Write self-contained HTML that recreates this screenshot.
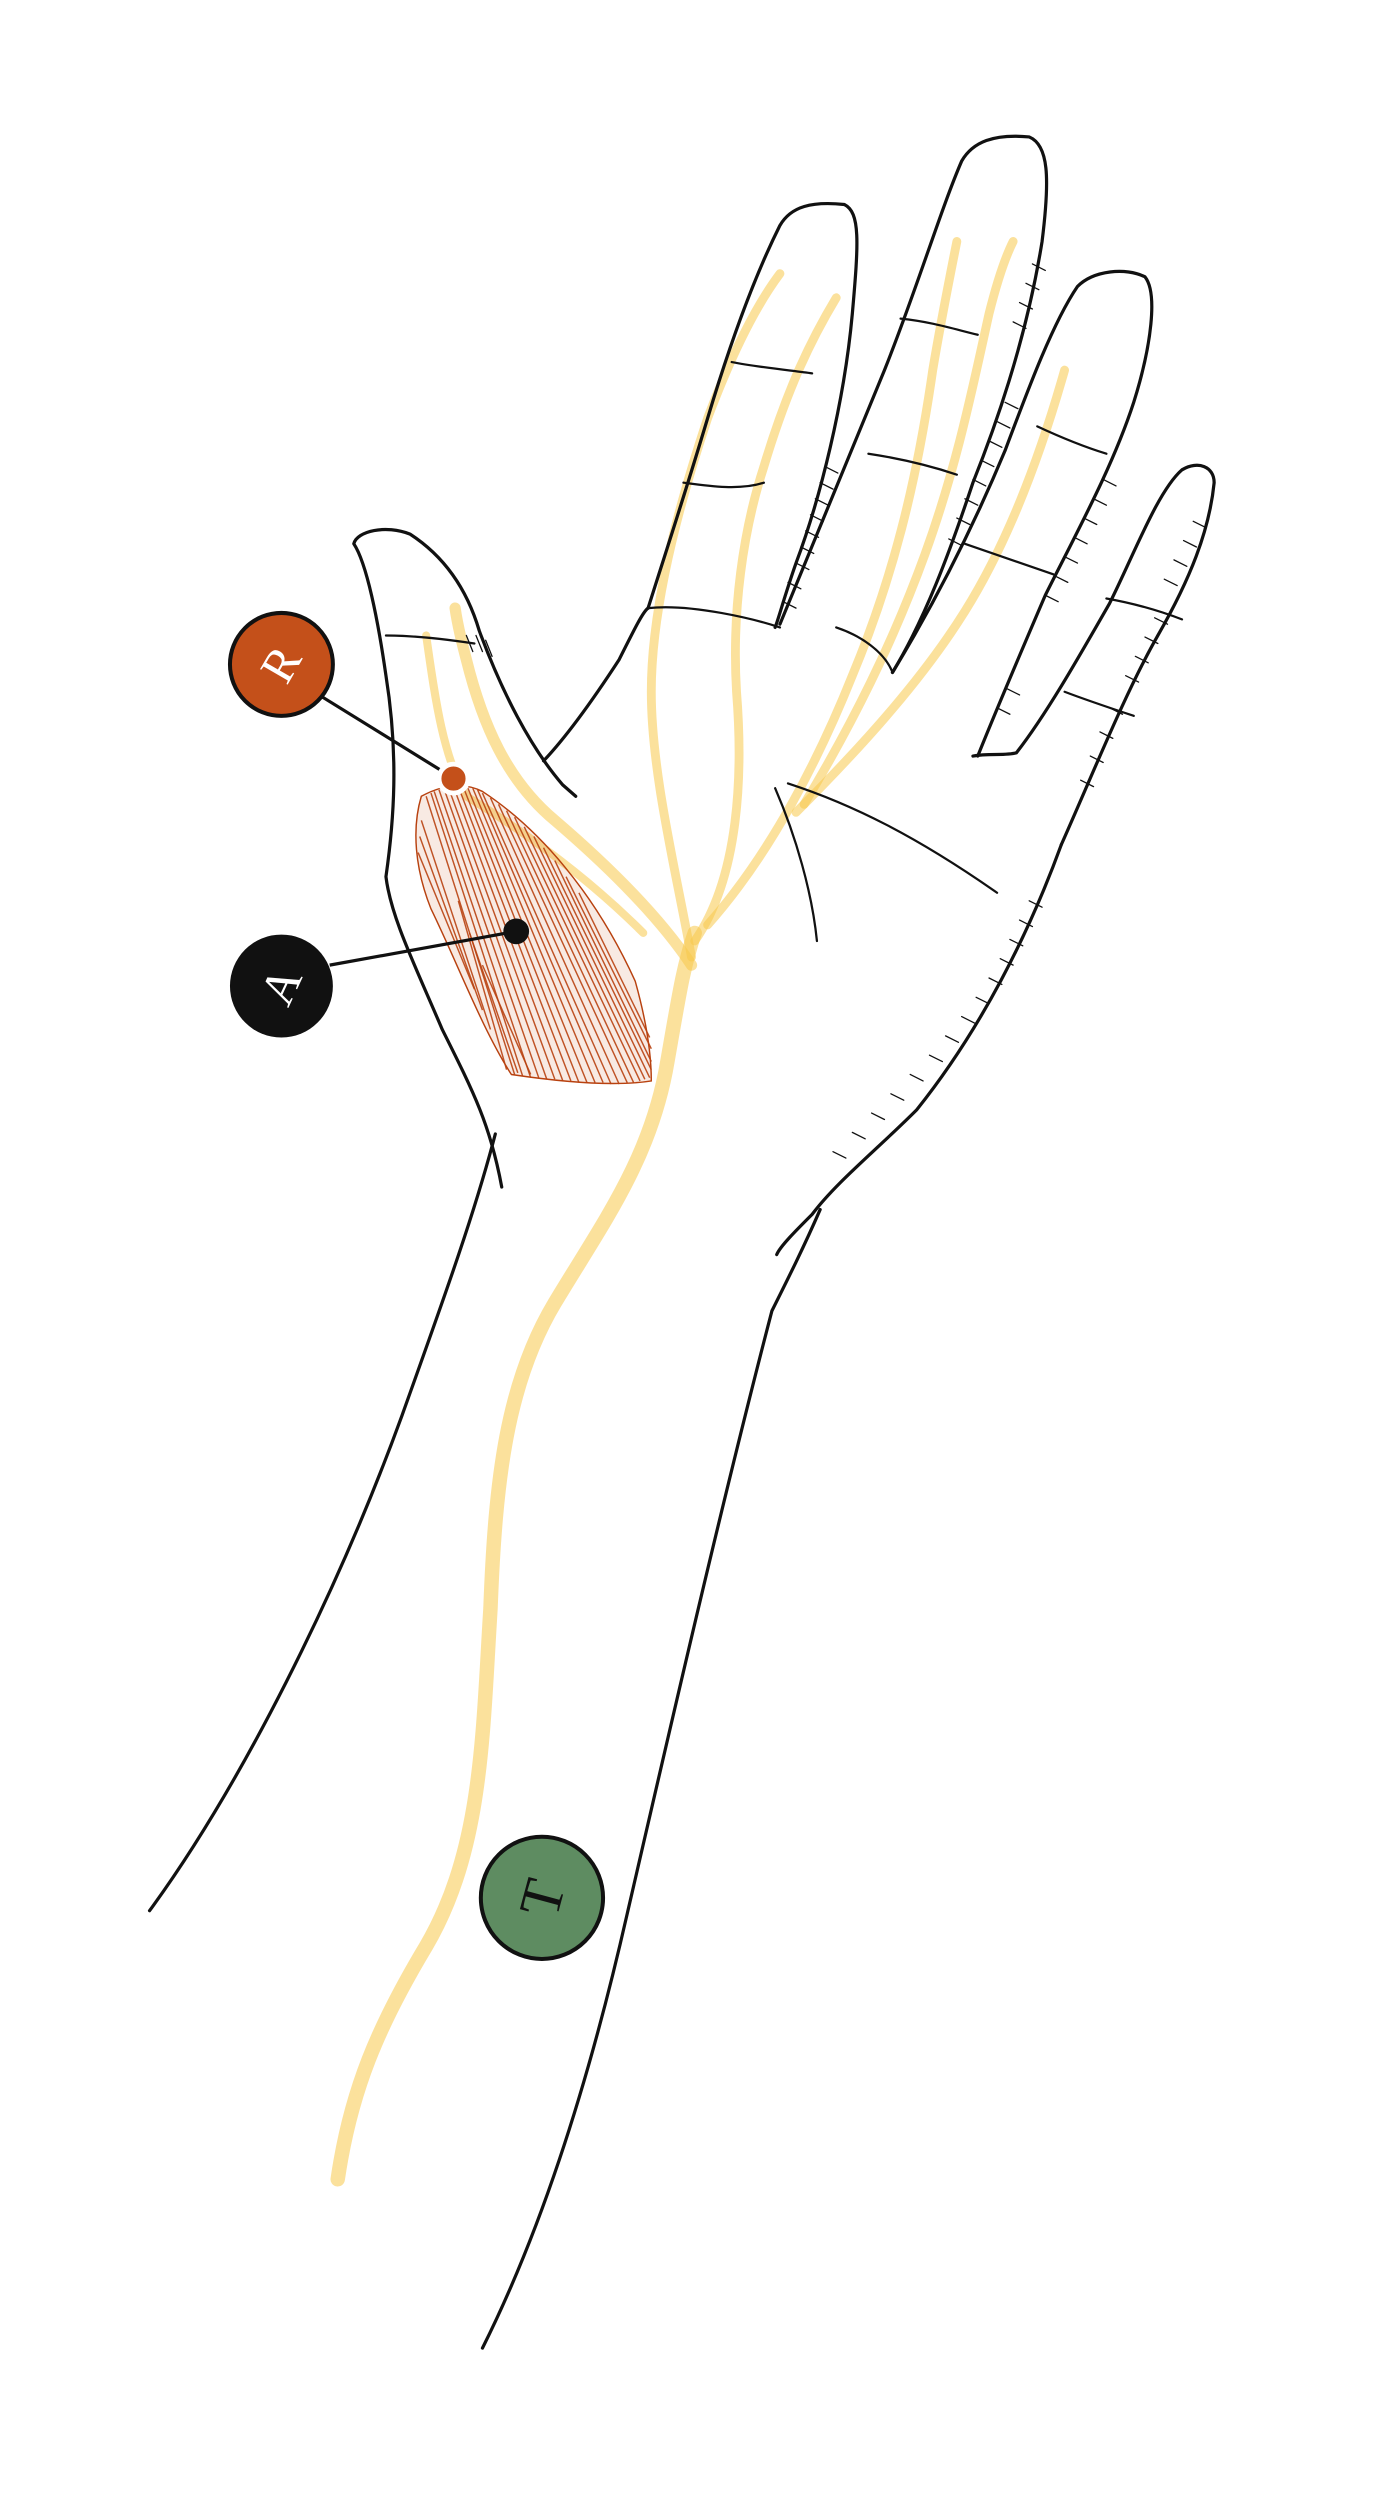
<!DOCTYPE html>
<html><head><meta charset="utf-8"><style>
html,body{margin:0;padding:0;background:#fff;}
svg{display:block;}
</style></head><body>
<svg width="1383" height="2514" viewBox="0 0 860 1563" xmlns="http://www.w3.org/2000/svg">
<rect width="860" height="1563" fill="#fff"/>
<g fill="none" stroke="#f7c84a" stroke-opacity="0.55" stroke-linecap="round" stroke-linejoin="round">
 <path stroke-width="9" d="M210,1355 C218,1300 235,1260 265,1210 C300,1150 300,1080 305,1000 C308,920 315,860 345,810 C375,760 405,720 415,660 C422,620 425,600 432,580"/>
 <path stroke-width="5.5" d="M430,595 C420,540 405,480 405,430 C405,380 420,320 440,260 C455,220 470,190 485,170"/>
 <path stroke-width="5.5" d="M432,585 C460,545 462,480 458,430 C455,380 462,330 475,290 C490,240 505,210 520,185"/>
 <path stroke-width="5.5" d="M440,575 C480,530 510,470 530,420 C555,360 570,300 580,230 C585,200 590,175 595,150"/>
 <path stroke-width="5.5" d="M500,500 C530,450 555,400 575,345 C595,290 605,240 615,195 C620,175 625,160 630,150"/>
 <path stroke-width="5.5" d="M495,505 C540,460 575,420 600,380 C625,340 645,290 662,230"/>
 <path stroke-width="7" d="M430,600 C410,570 380,540 345,510 C315,485 300,450 290,410 C286,395 284,385 283,378"/>
 <path stroke-width="5" d="M400,580 C360,540 315,510 290,495 C275,470 270,430 265,395"/>
</g>
<g stroke="#b8410f" stroke-width="0.9" fill="#c9531c" fill-opacity="0.12">
 <path d="M262,495 C275,488 288,486 300,492 C335,515 370,555 395,610 C402,635 405,655 405,672 C380,676 345,672 318,668 C300,640 285,600 268,565 C258,540 256,515 262,495Z"/>
 <g fill="none" stroke-opacity="0.9">
  <path d="M265,495 L320,668"/><path d="M268,493 L325,669"/><path d="M270,492 L330,670"/><path d="M273,491 L335,670"/><path d="M276,490 L340,671"/><path d="M279,490 L345,671"/><path d="M282,489 L350,672"/><path d="M285,489 L355,672"/><path d="M288,489 L360,673"/><path d="M291,490 L365,673"/><path d="M294,490 L370,673"/><path d="M297,491 L375,673"/><path d="M300,493 L380,674"/><path d="M305,496 L385,674"/><path d="M310,500 L390,673"/><path d="M315,504 L394,673"/><path d="M320,508 L398,672"/><path d="M326,514 L401,671"/><path d="M332,520 L404,670"/><path d="M338,527 L405,665"/><path d="M345,535 L405,660"/><path d="M352,545 L405,652"/><path d="M360,555 L404,645"/><path d="M262,510 L305,640"/><path d="M261,520 L300,628"/><path d="M260,530 L295,615"/><path d="M285,560 L315,665"/><path d="M292,580 L322,667"/><path d="M300,600 L330,668"/>
 </g>
</g>
<g fill="none" stroke="#111" stroke-width="2" stroke-linecap="round" stroke-linejoin="round">
 <path d="M93,1188 C150,1110 210,990 250,880 C275,810 295,755 308,705"/>
 <path d="M312,738 C305,700 295,680 275,640 C258,600 243,570 240,545 C245,510 248,470 240,420 C235,385 228,350 220,338 C222,330 240,326 255,332 C275,345 290,365 298,392 C312,430 330,465 350,488 L358,495"/>
 <path d="M338,473 C355,455 372,430 385,410 C395,390 400,380 403,378"/>
 <path d="M403,378 C415,340 425,310 440,260 C455,210 470,170 485,140 C492,128 505,125 525,127 C535,132 534,150 530,195 C525,250 510,310 495,350 C488,370 484,385 482,390"/>
 <path d="M485,388 C505,340 525,290 550,230 C570,180 585,130 598,100 C605,88 618,83 640,85 C652,90 653,110 648,150 C640,200 625,250 605,300 C590,345 575,385 555,418"/>
 <path d="M555,418 C575,385 600,340 625,280 C640,240 655,200 670,178 C680,168 700,166 712,172 C720,182 716,215 705,250 C692,290 670,330 650,370 C635,405 620,440 608,470"/>
 <path d="M605,470 C615,468 625,470 632,468 C650,445 670,410 690,375 C705,345 720,305 735,292 C745,286 755,290 755,300 C752,330 740,360 720,395 C700,430 680,480 660,525"/>
 <path d="M660,525 C640,580 610,640 570,690 C545,715 520,735 505,755 C495,765 485,775 483,780"/>
 <path d="M510,752 C500,775 490,795 480,815 C450,930 420,1060 390,1190 C365,1300 335,1390 300,1460"/>
 <g stroke-width="1.4">
  <path d="M482,490 C495,520 505,555 508,585"/>
  <path d="M490,487 C530,500 570,520 620,555"/>
  <path d="M403,378 C430,375 470,385 485,390"/>
  <path d="M425,300 C440,302 460,305 475,300"/>
  <path d="M455,225 C470,228 490,230 505,232"/>
  <path d="M540,282 C560,285 580,290 595,295"/>
  <path d="M560,198 C580,200 595,205 608,208"/>
  <path d="M600,338 C620,345 640,352 655,357"/>
  <path d="M645,265 C660,272 675,278 688,282"/>
  <path d="M688,372 C705,375 722,380 735,385"/>
  <path d="M662,430 C675,435 690,440 705,445"/>
  <path d="M240,395 C255,395 275,397 295,400"/>
  <path d="M520,390 C535,395 550,405 555,418"/>
 </g>
 <g stroke-width="0.8">
  <path d="M495,350 l8,4 M498,340 l8,4 M501,330 l8,4 M504,320 l8,4 M507,310 l8,4 M510,300 l8,4 M513,290 l8,4 M490,362 l8,4 M487,374 l8,4"/>
  <path d="M600,310 l8,4 M605,298 l8,4 M610,286 l8,4 M615,274 l8,4 M620,262 l8,4 M625,250 l8,4 M630,200 l8,4 M634,188 l8,4 M638,176 l8,4 M642,164 l8,4 M595,322 l8,4 M590,335 l8,4"/>
  <path d="M650,370 l8,4 M656,358 l8,4 M662,346 l8,4 M668,334 l8,4 M674,322 l8,4 M680,310 l8,4 M686,298 l8,4 M620,440 l8,4 M626,428 l8,4"/>
  <path d="M700,420 l8,4 M706,408 l8,4 M712,396 l8,4 M718,384 l8,4 M724,360 l8,4 M730,348 l8,4 M736,336 l8,4 M742,324 l8,4 M690,440 l8,4 M684,455 l8,4 M678,470 l8,4 M672,485 l8,4"/>
  <path d="M640,560 l8,4 M634,572 l8,4 M628,584 l8,4 M622,596 l8,4 M615,608 l8,4 M607,620 l8,4 M598,632 l8,4 M588,644 l8,4 M578,656 l8,4 M566,668 l8,4 M554,680 l8,4 M542,692 l8,4 M530,704 l8,4 M518,716 l8,4"/>
  <path d="M290,395 l4,10 M296,395 l4,10 M302,398 l4,10"/>
 </g>
</g>
<g>
 <line x1="200" y1="433" x2="276" y2="480" stroke="#111" stroke-width="2"/>
 <circle cx="282" cy="484" r="9" fill="#c4501a" stroke="#fff" stroke-width="3"/>
 <circle cx="175" cy="413" r="32" fill="#c4501a" stroke="#111" stroke-width="2.5"/>
 <text x="175" y="413" transform="rotate(-60 175 413)" text-anchor="middle" dominant-baseline="central" font-family="Liberation Serif, serif" font-size="30" fill="#fff">R</text>
</g>
<g>
 <line x1="205" y1="600" x2="321" y2="579" stroke="#111" stroke-width="2"/>
 <circle cx="321" cy="579" r="8" fill="#111"/>
 <circle cx="175" cy="613" r="32" fill="#111"/>
 <text x="175" y="613" transform="rotate(-65 175 613)" text-anchor="middle" dominant-baseline="central" font-family="Liberation Serif, serif" font-size="30" fill="#fff">A</text>
</g>
<g>
 <circle cx="337" cy="1180" r="38" fill="#5e8c61" stroke="#111" stroke-width="2.5"/>
 <text x="337" y="1180" transform="rotate(-75 337 1180)" text-anchor="middle" dominant-baseline="central" font-family="Liberation Serif, serif" font-size="36" fill="#111">T</text>
</g>
</svg>
</body></html>
